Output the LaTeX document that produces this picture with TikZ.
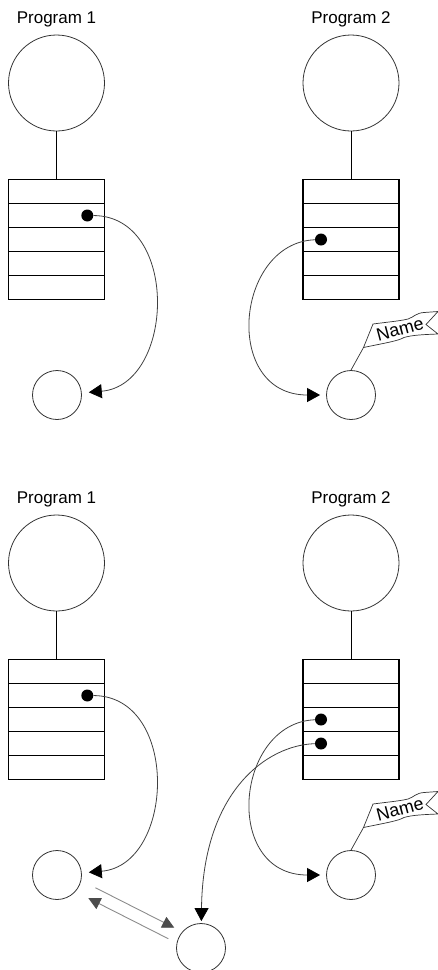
\documentclass[tikz,border=0pt]{standalone}
\usepackage{fontspec}
\setmainfont{Liberation Sans}
\usetikzlibrary{arrows.meta,calc}
\tikzset{
 bigc/.style={circle,draw=black!80,line width=0.8pt,minimum size=96pt,inner sep=0pt},
 smallc/.style={circle,draw=black!80,line width=0.8pt,minimum size=49pt,inner sep=0pt},
 tabcell/.style={rectangle,draw=black,line width=1.1pt,minimum width=96pt,minimum height=24pt,inner sep=0pt},
 ptrdot/.style={circle,fill=black,minimum size=12pt,inner sep=0pt},
 lbl/.style={font=\fontsize{17pt}{20pt}\selectfont,anchor=base,inner sep=0pt},
 namelbl/.style={font=\fontsize{18pt}{20pt}\selectfont,inner sep=0pt},
 ptr/.style={draw=black!75,line width=0.8pt,-{Triangle[length=13pt,width=14pt,color=black]}},
 linkline/.style={draw=black,line width=1pt},
 gptr/.style={draw=black!45,line width=0.9pt,-{Triangle[length=12pt,width=12pt,color=black!70]}},
 flagshape/.style={draw=black!80,fill=white,line width=0.7pt},
}
\newcommand\drawhalf{%
 \node[lbl] (p1) at (56.5,23.5) {Program 1};
 \node[lbl] (p2) at (351,23.5) {Program 2};
 \node[bigc] (c1) at (56.5,83) {};
 \node[bigc] (c2) at (351,83) {};
 \foreach \i in {1,...,5}{%
   \node[tabcell] (l\i) at (56.5,{167.5+24*\i}) {};
   \node[tabcell] (r\i) at (351,{167.5+24*\i}) {};
 }
 \draw[linkline] (c1) -- (l1);
 \draw[linkline] (c2) -- (r1);
 \node[ptrdot] (d1) at (87.3,215.5) {};
 \node[ptrdot] (d2) at (321,239.5) {};
 \node[smallc] (s1) at (57,395) {};
 \node[smallc] (s2) at (351,395) {};
 \draw[ptr,shorten >=7pt] (d1) .. controls (180,216) and (175,385) .. (s1);
 \draw[ptr,shorten >=6pt] (d2) .. controls (235,243) and (222,395) .. (s2);
 \coordinate (fbl) at (363.5,347.5);
 \draw[flagshape] (fbl) -- (373,324)
   .. controls (388,322) and (400,321) .. (408,319)
   .. controls (414,317) and (416,313) .. (424,312.5)
   -- (438,311.5) -- (426,324.5) -- (438,334)
   .. controls (425,334.5) and (412,335) .. (404,337.5)
   .. controls (398,341) and (385,343) .. (fbl) -- cycle;
 \draw[draw=black!80,line width=0.7pt] (s2.north) -- (fbl);
 \node[namelbl,rotate=15] (nm) at (400,329) {Name};
}
\begin{document}
\begin{tikzpicture}[x=1pt,y=-1pt]
\useasboundingbox (0,0) rectangle (437,970);
\begin{scope}[name prefix=t-]
 \drawhalf
\end{scope}
\begin{scope}[yshift=-480pt,name prefix=b-]
 \drawhalf
 \node[ptrdot] (d3) at (321,263.5) {};
 \node[smallc] (sb) at (201,468) {};
 \draw[ptr,shorten >=2pt] (d3) .. controls (268,265) and (203,310) .. (sb);
 \coordinate (g1a) at (95.4,407.7);
 \coordinate (g1b) at (174.3,447.7);
 \coordinate (g2a) at (168.3,458.7);
 \coordinate (g2b) at (88.4,418.2);
 \draw[gptr] (g1a) -- (g1b);
 \draw[gptr] (g2a) -- (g2b);
\end{scope}
\end{tikzpicture}
\end{document}
